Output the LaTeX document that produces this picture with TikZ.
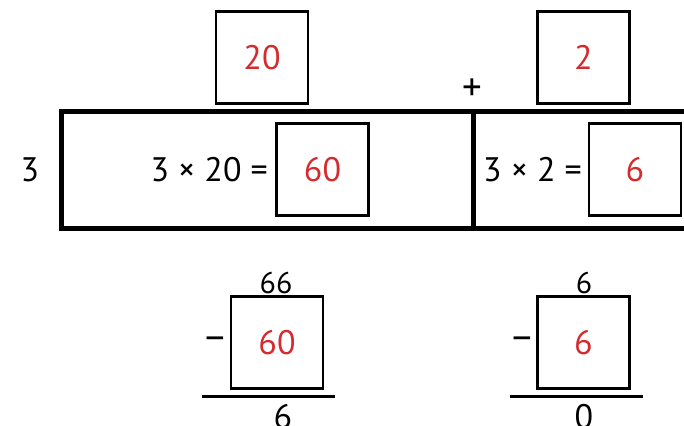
\documentclass[tikz,border=0pt]{standalone}
\usepackage{fontspec}
\setmainfont{PT Sans}
\definecolor{AnsRed}{HTML}{D52A2E}
\tikzset{
  ansbox/.style={draw,line width=2.5pt,minimum width=92pt,minimum height=92pt,
                 text=AnsRed,inner sep=0pt},
  txt/.style={inner sep=0pt},
  sign/.style={inner sep=0pt,font=\fontsize{39}{44}\selectfont},
}

\begin{document}
\begin{tikzpicture}[x=1pt,y=-1pt,font=\fontsize{34}{40}\selectfont]
  \useasboundingbox (0,0) rectangle (684,425);
  % partial products frame
  \draw[line width=5pt] (700,111) -- (61,111) -- (61,228) -- (700,228);
  \draw[line width=5pt] (473.5,111) -- (473.5,228);
  % factors on top
  \node[ansbox] (top20) at (262,57.5) {20};
  \node[ansbox] (top2) at (583.5,57.5) {2};
  \node[sign] (plus) at (472,90) {+};
  \node[txt,anchor=base] (three) at (30,181.5) {3};
  % products
  \node[ansbox] (box60) at (322.5,169.5) {60};
  \node[ansbox] (box6) at (635,169.5) {6};
  \node[txt,anchor=base east] (eq60) at (268,181.5) {3 × 20 =};
  \node[txt,anchor=base east] (eq6) at (582,181.5) {3 × 2 =};
  % subtraction steps
  \node[txt,anchor=base,font=\fontsize{30}{34}\selectfont] (num66) at (276,293) {66};
  \node[ansbox] (sub60) at (277,342.5) {60};
  \node[sign] (minusA) at (215,344) {−};
  \draw[line width=3pt] (202,396) -- (335,396);
  \node[txt,anchor=base] (rest6) at (283,428) {6};
  \node[txt,anchor=base,font=\fontsize{30}{34}\selectfont] (num6) at (584,293) {6};
  \node[ansbox] (sub6) at (583.5,342.5) {6};
  \node[sign] (minusB) at (522,344) {−};
  \draw[line width=3pt] (510,396) -- (643,396);
  \node[txt,anchor=base] (rest0) at (584,428) {0};
\end{tikzpicture}
\end{document}
